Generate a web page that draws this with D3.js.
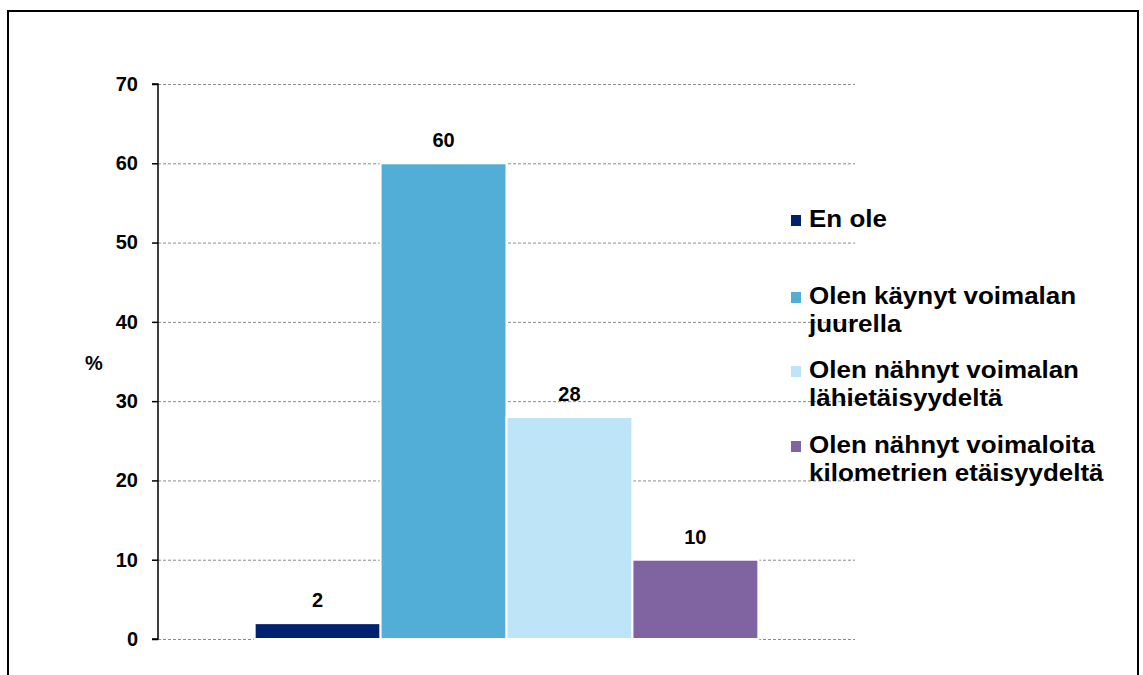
<!DOCTYPE html>
<html>
<head>
<meta charset="utf-8">
<script src="https://cdn.jsdelivr.net/npm/d3@7"></script>
<style>
  html, body { margin: 0; padding: 0; background: #fff; }
  svg { display: block; }
  text { font-family: "Liberation Sans", Arial, sans-serif; font-weight: bold; fill: #000; }
</style>
</head>
<body>
<svg id="chart" width="1143" height="675"></svg>
<script>
const seriesNames = ["En ole", "Olen käynyt voimalan juurella", "Olen nähnyt voimalan lähietäisyydeltä", "Olen nähnyt voimaloita kilometrien etäisyydeltä"];
const legendLines = [["En ole"], ["Olen käynyt voimalan", "juurella"], ["Olen nähnyt voimalan", "lähietäisyydeltä"], ["Olen nähnyt voimaloita", "kilometrien etäisyydeltä"]];
const values = [2, 60, 28, 10];
const colors = ["#002070", "#52aed6", "#bde4f7", "#8064a2"];
const yTicks = [0, 10, 20, 30, 40, 50, 60, 70];
const yLabel = "%";

(function () {
const svg = d3.select("#chart");

svg.append("rect").attr("x", 8).attr("y", 11).attr("width", 1130).attr("height", 700)
  .attr("fill", "none").attr("stroke", "#000").attr("stroke-width", 2);

const pL = 158, pR = 855, pT = 84, pB = 639;
const y = d3.scaleLinear().domain([0, 70]).range([pB, pT]);
const x0 = d3.scaleBand().domain(["all"]).range([pL, pR]).paddingInner(0.161).paddingOuter(0.161);
const x1 = d3.scaleBand().domain(seriesNames).range([0, x0.bandwidth()]).padding(0);

svg.append("g").selectAll("line").data(yTicks).join("line")
  .attr("x1", pL).attr("x2", pR)
  .attr("y1", d => y(d) + 0.5).attr("y2", d => y(d) + 0.5)
  .attr("stroke", "#8c8c8c").attr("stroke-width", 1).attr("stroke-dasharray", "3,2");

const g = svg.append("g").attr("transform", `translate(${x0("all")},0)`);
g.selectAll("rect").data(values).join("rect")
  .attr("x", (d, i) => x1(seriesNames[i]))
  .attr("width", x1.bandwidth())
  .attr("y", d => y(d))
  .attr("height", d => y(0) - y(d))
  .attr("fill", (d, i) => colors[i])
  .attr("stroke", "#fff").attr("stroke-width", 2);

g.selectAll("text.lbl").data(values).join("text").attr("class", "lbl")
  .attr("x", (d, i) => x1(seriesNames[i]) + x1.bandwidth() / 2)
  .attr("y", d => y(d) - 16)
  .attr("text-anchor", "middle").attr("font-size", 20)
  .text(d => d);

const yAxis = d3.axisLeft(y).tickValues(yTicks).tickSize(6).tickPadding(14);
const ya = svg.append("g").attr("transform", `translate(${pL},0)`).call(yAxis);
ya.select(".domain").attr("stroke", "#000").attr("stroke-width", 1.5).attr("d", `M-6,${pT}H0V${pB}H-6`);
ya.selectAll(".tick line").attr("stroke", "#000").attr("stroke-width", 1.5);
ya.selectAll(".tick text").attr("font-size", 20).attr("font-family", "Liberation Sans, Arial, sans-serif").attr("font-weight", "bold").attr("fill", "#000");

svg.append("text").attr("x", 94).attr("y", 370).attr("text-anchor", "middle").attr("font-size", 20).text(yLabel);

const legendY = [227, 304, 378, 453];
const lg = svg.append("g");
legendLines.forEach((lines, i) => {
  const item = lg.append("g");
  item.append("rect").attr("x", 791).attr("y", legendY[i] - 12).attr("width", 10).attr("height", 11).attr("fill", colors[i]);
  lines.forEach((t, j) => {
    item.append("text")
      .attr("transform", `translate(809,${legendY[i] + j * 28}) scale(1.13,1)`)
      .attr("font-size", 23).text(t);
  });
});
})();
</script>
</body>
</html>
